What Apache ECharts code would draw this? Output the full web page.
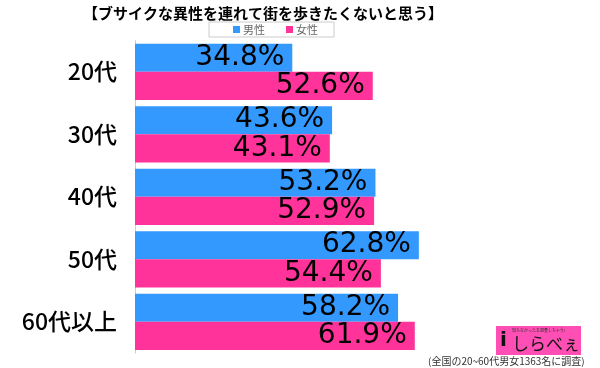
<!DOCTYPE html>
<html><head><meta charset="utf-8">
<script src="https://cdn.jsdelivr.net/npm/echarts@6/dist/echarts.min.js"></script>
<style>html,body{margin:0;padding:0;background:#fff}#c{width:600px;height:368px}</style>
</head><body><div id="c"></div>
<script>
const categories = ['20代', '30代', '40代', '50代', '60代以上'];
const male = [34.8, 43.6, 53.2, 62.8, 58.2];
const female = [52.6, 43.1, 52.9, 54.4, 61.9];
const seriesNames = ['男性', '女性'];
const titleText = '【ブサイクな異性を連れて街を歩きたくないと思う】';
const noteText = '(全国の20~60代男女1363名に調査)';

const chart = echarts.init(document.getElementById('c'), null, {renderer: 'canvas'});
const labelCfg = {
  show: true, position: 'insideRight', distance: 8,
  formatter: p => p.value.toFixed(1) + '%',
  color: '#000', fontSize: 28, fontFamily: 'DejaVu Sans'
};
chart.setOption({
  animation: false,
  title: {
    text: titleText, left: 78, top: 1,
    textStyle: {fontSize: 15, fontWeight: 'bold', color: '#000', fontFamily: 'Noto Sans CJK JP'}
  },
  legend: {
    data: seriesNames, left: 209, top: 22,
    padding: [2, 16, 2, 24], itemGap: 21, itemWidth: 7, itemHeight: 7,
    borderColor: '#ccc', borderWidth: 1,
    icon: 'rect',
    textStyle: {fontSize: 11, color: '#666', fontFamily: 'Noto Sans CJK JP', padding: [0, 0, 0, -2]}
  },
  grid: {left: 135, right: 13, top: 40.5, bottom: 15, containLabel: false},
  xAxis: {
    type: 'value', min: 0, max: 100, show: false
  },
  yAxis: {
    type: 'category', data: categories, inverse: true,
    axisLine: {show: true, lineStyle: {color: '#ccc', width: 1}},
    axisTick: {show: false},
    axisLabel: {margin: 18, fontSize: 23, color: '#000', fontWeight: 500, fontFamily: 'Noto Sans CJK JP'}
  },
  series: [
    {name: seriesNames[0], type: 'bar', data: male, itemStyle: {color: '#3399ff'},
     barGap: '0%', barCategoryGap: '10%', label: labelCfg},
    {name: seriesNames[1], type: 'bar', data: female, itemStyle: {color: '#ff3399'},
     barGap: '0%', barCategoryGap: '10%', label: labelCfg}
  ],
  graphic: [
    {type: 'rect', left: 496, top: 326, shape: {width: 85, height: 29}, style: {fill: '#ff4fb4'}},
    {type: 'text', left: 512, top: 328, style: {text: '知らなかったを調査しちゃう!', fontSize: 4, fill: '#333', fontFamily: 'Noto Sans CJK JP'}},
    {type: 'text', left: 500, top: 331, style: {text: 'i', fontSize: 20, fontWeight: 'bold', fill: '#111', fontFamily: 'DejaVu Sans'}},
    {type: 'text', left: 512, top: 335, style: {text: 'しらべぇ', fontSize: 17, fill: '#111', fontFamily: 'Noto Sans CJK JP'}},
    {type: 'text', left: 428, top: 356, style: {text: noteText, fontSize: 10, fill: '#333', fontFamily: 'Noto Sans CJK JP'}}
  ]
});
</script></body></html>
